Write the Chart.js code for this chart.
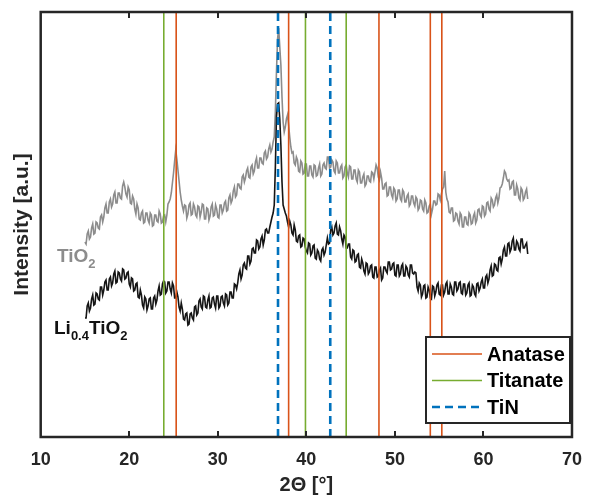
<!DOCTYPE html>
<html><head><meta charset="utf-8">
<script src="https://cdn.jsdelivr.net/npm/chart.js@4.4.0/dist/chart.umd.min.js"></script>
<style>html,body{margin:0;padding:0;background:#fff;}#wrap{width:594px;height:497px;position:relative;}</style>
</head><body><div id="wrap"><canvas id="c" width="594" height="497"></canvas></div>
<script>
// 2Theta grid of the measured patterns
const angleStart = 15;
const angleStep = 0.125;
// TiO2 intensity (a.u.)
const tio2 = [
195,193,203,206,198,200,209,213,203,204,215,214,209,208,220,222,215,220,229,233,224,224,235,238,230,233,242,245,234,234,244,244,239,238,251,255,250,243,240,250,
247,234,233,241,238,228,223,233,229,218,217,224,226,214,215,224,224,217,214,224,222,211,212,222,222,216,215,226,223,214,215,221,222,215,222,233,235,238,244,254,
264,276,287,278,267,256,245,237,231,226,232,231,219,223,232,234,222,223,233,230,222,220,231,230,220,225,233,232,218,218,229,228,217,221,230,233,221,222,232,228,
220,219,232,232,224,227,234,236,226,227,239,242,234,237,246,250,240,242,253,253,249,248,260,262,255,259,266,269,260,259,270,272,263,266,275,279,269,269,279,279,
274,273,284,286,278,280,288,292,285,288,295,300,325,365,398,409,390,372,340,315,305,310,318,322,312,300,290,284,285,274,272,280,277,266,265,276,274,263,264,273,
273,261,261,271,271,262,260,272,271,261,262,269,273,261,263,272,274,269,268,280,280,269,270,277,275,266,264,276,274,264,264,270,272,259,261,270,272,264,260,271,
270,258,258,267,267,258,255,267,265,254,254,260,263,251,253,261,261,256,255,265,264,258,265,272,269,260,257,265,259,248,248,253,254,241,242,250,250,242,239,249,
247,236,238,247,247,238,236,247,245,235,235,241,243,231,233,241,241,234,231,240,238,227,229,237,236,228,226,237,234,224,225,231,233,223,228,236,236,232,233,243,
242,237,243,248,250,266,245,238,235,225,224,229,229,216,217,224,223,216,213,224,222,210,210,220,220,213,212,224,222,213,214,221,224,214,217,227,228,222,220,231,
230,221,223,234,235,228,226,239,237,230,232,239,242,234,239,249,250,253,259,266,264,258,256,257,248,249,255,256,242,242,252,248,239,237,249,247,237,239,245,248,
238];
// Li0.4TiO2 intensity (a.u.)
const li04tio2 = [
119,119,131,134,126,129,138,142,132,133,144,143,138,137,150,150,142,147,155,157,147,147,158,160,151,154,163,166,154,155,165,164,158,156,168,167,158,159,164,165,
153,150,159,158,146,147,153,154,140,139,147,142,132,129,140,138,127,131,138,139,128,128,139,141,133,137,146,151,142,143,153,156,155,144,146,155,155,148,144,154,
151,139,139,145,140,130,126,134,128,118,117,123,124,112,113,123,124,119,117,130,131,122,124,136,138,130,128,141,140,130,129,137,141,129,130,139,140,133,129,141,
141,129,131,140,141,134,131,143,142,132,134,145,145,139,139,153,152,148,154,163,167,158,162,172,174,169,168,181,181,173,176,188,189,184,184,197,196,188,190,198,
201,192,197,207,208,204,204,210,215,220,224,232,270,320,333,334,318,292,255,232,228,224,221,215,210,216,212,204,202,212,207,196,195,201,202,190,191,199,198,190,
186,184,194,193,182,184,191,192,179,178,187,185,178,176,187,189,182,185,192,199,193,194,207,210,202,204,211,214,203,202,210,206,198,193,202,200,189,189,193,193,
180,178,187,186,175,176,182,183,170,169,178,174,166,163,174,173,163,165,171,172,160,159,170,170,160,161,167,169,157,159,170,170,166,164,175,175,167,168,173,174,
162,161,172,172,161,163,171,173,161,161,171,169,162,160,172,172,164,163,165,164,150,146,154,152,140,143,151,152,139,140,150,147,139,138,151,150,141,145,152,154,
143,142,152,152,142,145,153,155,143,143,153,150,143,142,155,155,146,148,154,155,144,143,153,153,142,144,152,154,141,142,152,150,143,141,153,154,146,149,155,158,
149,149,160,162,154,158,167,171,161,162,173,172,167,166,179,180,173,178,187,190,181,181,193,194,185,188,196,199,187,187,196,194,188,186,198,198,189,189,192,194,
183];
// reference reflections (2Theta, deg)
const anatase = [25.3, 38.0, 48.2, 54.0, 55.3];
const titanate = [23.9, 39.9, 44.5];
const tin = [36.8, 42.7];
const xTicks = [10, 20, 30, 40, 50, 60, 70];
const yMax = 425;

const FONT = "'Liberation Sans', Arial, sans-serif";
const DARK = '#262626';

const angles = tio2.map((_, i) => angleStart + angleStep * i);
const toXY = arr => arr.map((v, i) => ({x: angles[i], y: v}));
const vlines = arr => arr.flatMap(p => [{x: p, y: 0}, {x: p, y: yMax}, {x: p, y: null}]);

const framePlugin = {
  id: 'frame',
  afterDatasetsDraw(chart) {
    const {ctx, chartArea: {left, right, top, bottom}, scales: {x}} = chart;
    ctx.save();
    ctx.strokeStyle = DARK;
    ctx.lineWidth = 2;
    xTicks.slice(1, -1).forEach(v => {
      const px = Math.round(x.getPixelForValue(v));
      ctx.beginPath();
      ctx.moveTo(px, bottom); ctx.lineTo(px, bottom - 6);
      ctx.moveTo(px, top); ctx.lineTo(px, top + 6);
      ctx.stroke();
    });
    ctx.lineWidth = 2.5;
    ctx.strokeRect(left, top, right - left, bottom - top);

    const drawParts = (parts, x0, y0, color) => {
      let cx = x0;
      ctx.fillStyle = color;
      ctx.textBaseline = 'alphabetic';
      ctx.textAlign = 'left';
      parts.forEach(([t, sub]) => {
        ctx.font = sub ? `bold 13px ${FONT}` : `bold 19px ${FONT}`;
        ctx.fillText(t, cx, y0 + (sub ? 6 : 0));
        cx += ctx.measureText(t).width;
      });
    };
    drawParts([['TiO', false], ['2', true]], 57, 262, '#8c8c8c');
    drawParts([['Li', false], ['0.4', true], ['TiO', false], ['2', true]], 54, 334, '#111111');

    const lx = 426, ly = 337, lw = 144, lh = 86;
    ctx.fillStyle = '#ffffff';
    ctx.fillRect(lx, ly, lw, lh);
    ctx.strokeStyle = DARK;
    ctx.lineWidth = 2;
    ctx.strokeRect(lx, ly, lw, lh);
    const items = chart.data.datasets.filter(d => d.isRef);
    items.forEach((d, i) => {
      const yy = ly + 17 + i * 26.5;
      ctx.strokeStyle = d.borderColor;
      ctx.lineWidth = d.borderWidth;
      ctx.setLineDash(d.borderDash || []);
      ctx.beginPath();
      ctx.moveTo(lx + 6, yy); ctx.lineTo(lx + 56, yy);
      ctx.stroke();
      ctx.setLineDash([]);
      ctx.fillStyle = '#000000';
      ctx.font = `bold 20px ${FONT}`;
      ctx.textBaseline = 'middle';
      ctx.textAlign = 'left';
      ctx.fillText(d.label, lx + 61, yy + 1);
    });
    ctx.restore();
  }
};

new Chart(document.getElementById('c'), {
  type: 'line',
  data: {
    datasets: [
      {label: 'TiO2', data: toXY(tio2), borderColor: '#8c8c8c', borderWidth: 1.6, pointRadius: 0, order: 3},
      {label: 'Li0.4TiO2', data: toXY(li04tio2), borderColor: '#151515', borderWidth: 1.6, pointRadius: 0, order: 2},
      {label: 'Anatase', isRef: true, data: vlines(anatase), borderColor: '#D95319', borderWidth: 1.6, pointRadius: 0, spanGaps: false, order: 1},
      {label: 'Titanate', isRef: true, data: vlines(titanate), borderColor: '#77AC30', borderWidth: 1.6, pointRadius: 0, spanGaps: false, order: 1},
      {label: 'TiN', isRef: true, data: vlines(tin), borderColor: '#0072BD', borderWidth: 2.6, borderDash: [8, 5], pointRadius: 0, spanGaps: false, order: 1}
    ]
  },
  options: {
    responsive: false,
    animation: false,
    devicePixelRatio: 1,
    layout: {padding: {left: 0, right: 13.3, top: 12, bottom: 0}},
    plugins: {legend: {display: false}, tooltip: {enabled: false}},
    elements: {line: {tension: 0, borderCapStyle: 'butt'}},
    scales: {
      x: {
        type: 'linear', min: 10, max: 70,
        afterBuildTicks: s => { s.ticks = xTicks.map(v => ({value: v})); },
        afterFit: s => { s.height = 60; },
        grid: {display: false, drawTicks: false},
        border: {display: false},
        ticks: {color: DARK, font: {family: FONT, size: 18, weight: 'bold'}, padding: 12},
        title: {display: true, text: '2Θ [°]', color: DARK, font: {family: FONT, size: 20, weight: 'bold'}, padding: {top: 0, bottom: 0}}
      },
      y: {
        min: 0, max: yMax,
        afterFit: s => { s.width = 40.7; },
        grid: {display: false, drawTicks: false},
        border: {display: false},
        ticks: {display: false},
        title: {display: true, text: 'Intensity [a.u.]', color: DARK, font: {family: FONT, size: 21, weight: 'bold'}, padding: {top: 10, bottom: 0}}
      }
    }
  },
  plugins: [framePlugin]
});
</script></body></html>
